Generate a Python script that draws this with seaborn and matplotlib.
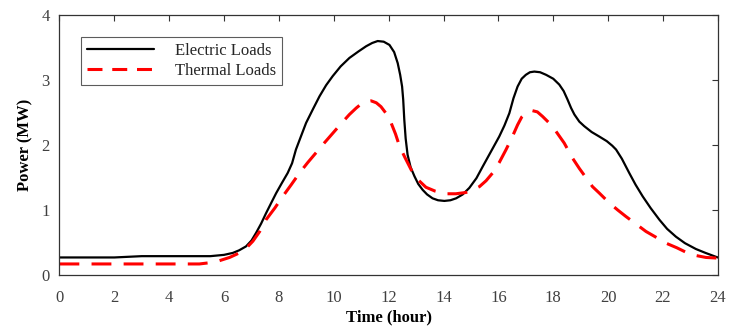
import numpy as np
import pandas as pd
import seaborn as sns
import matplotlib
matplotlib.use("Agg")
import matplotlib.pyplot as plt

elec_t = [0, 1, 2, 3, 4, 5, 5.5, 6.0, 6.32, 6.55, 6.8, 7.0, 7.17, 7.35, 7.53, 7.72, 7.9, 8.1, 8.32, 8.48, 8.62,
          8.8, 8.99, 9.25, 9.48, 9.72, 9.96, 10.25, 10.57, 10.9, 11.18, 11.4, 11.6, 11.82, 12.03, 12.2, 12.33,
          12.42, 12.49, 12.53, 12.57, 12.62, 12.69, 12.8, 12.94, 13.08, 13.24, 13.4, 13.6, 13.8, 14.03, 14.25,
          14.46, 14.7, 14.94, 15.2, 15.43, 15.73, 16.03, 16.22, 16.4, 16.55, 16.7, 16.85, 17.0, 17.15, 17.31,
          17.52, 17.74, 18.0, 18.22, 18.38, 18.52, 18.65, 18.77, 18.95, 19.13, 19.4, 19.68, 19.95, 20.15, 20.29,
          20.5, 20.77, 21.0, 21.26, 21.55, 21.87, 22.15, 22.47, 22.8, 23.2, 23.55, 23.93, 24.0]
elec_p = [0.27, 0.27, 0.27, 0.29, 0.29, 0.29, 0.29, 0.31, 0.34, 0.38, 0.44, 0.53, 0.65, 0.79, 0.95, 1.11, 1.26,
          1.41, 1.57, 1.72, 1.93, 2.13, 2.34, 2.56, 2.75, 2.92, 3.06, 3.21, 3.34, 3.44, 3.52, 3.57, 3.60, 3.59,
          3.54, 3.43, 3.26, 3.08, 2.90, 2.70, 2.39, 2.10, 1.85, 1.66, 1.52, 1.40, 1.31, 1.24, 1.18, 1.15, 1.14,
          1.15, 1.18, 1.24, 1.34, 1.49, 1.67, 1.90, 2.13, 2.30, 2.49, 2.72, 2.90, 3.02, 3.08, 3.12, 3.13, 3.12,
          3.08, 3.02, 2.93, 2.83, 2.70, 2.57, 2.47, 2.36, 2.29, 2.20, 2.13, 2.06, 1.99, 1.93, 1.79, 1.57, 1.39,
          1.21, 1.03, 0.85, 0.71, 0.59, 0.49, 0.40, 0.34, 0.28, 0.27]

therm_t = [0, 1, 2, 3, 4, 5.1, 5.5, 5.83, 6.2, 6.56, 6.8, 7.05, 7.3, 7.53, 7.85, 8.14, 8.45, 8.75, 9.05, 9.35,
           9.65, 9.96, 10.27, 10.57, 10.82, 11.05, 11.2, 11.36, 11.55, 11.72, 11.9, 12.09, 12.25, 12.39, 12.58,
           12.76, 12.88, 13.06, 13.36, 13.7, 14.09, 14.45, 14.82, 15.05, 15.31, 15.55, 15.79, 16.03, 16.28, 16.5,
           16.7, 16.85, 17.0, 17.12, 17.23, 17.42, 17.61, 17.85, 18.1, 18.4, 18.7, 18.95, 19.19, 19.43, 19.68,
           20.04, 20.35, 20.65, 21.0, 21.38, 21.75, 22.11, 22.5, 22.84, 23.2, 23.57, 24.0]
therm_p = [0.17, 0.17, 0.17, 0.17, 0.17, 0.17, 0.19, 0.22, 0.27, 0.34, 0.41, 0.52, 0.67, 0.85, 1.03, 1.21, 1.39,
           1.57, 1.73, 1.88, 2.03, 2.18, 2.33, 2.47, 2.57, 2.65, 2.67, 2.68, 2.65, 2.59, 2.49, 2.34, 2.17, 1.99,
           1.82, 1.67, 1.57, 1.47, 1.35, 1.29, 1.25, 1.25, 1.27, 1.31, 1.36, 1.45, 1.57, 1.73, 1.93, 2.12, 2.31,
           2.43, 2.49, 2.52, 2.53, 2.51, 2.44, 2.34, 2.21, 2.03, 1.80, 1.64, 1.50, 1.36, 1.26, 1.11, 1.00, 0.90,
           0.79, 0.67, 0.58, 0.49, 0.42, 0.35, 0.30, 0.27, 0.26]

x_ticks = list(range(0, 25, 2))
y_ticks = [0, 1, 2, 3, 4]

sns.set_theme(style="white")
plt.rcParams['font.family'] = ['Liberation Serif', 'DejaVu Serif']

fig, ax = plt.subplots(figsize=(7.34, 3.27), dpi=100)
fig.subplots_adjust(left=0.081, right=0.978, top=0.954, bottom=0.159)

df_e = pd.DataFrame({"t": elec_t, "p": elec_p})
df_t = pd.DataFrame({"t": therm_t, "p": therm_p})
sns.lineplot(data=df_e, x="t", y="p", ax=ax, color="black", linewidth=1.6, label="Electric Loads")
sns.lineplot(data=df_t, x="t", y="p", ax=ax, color="#ff0000", linewidth=2.2, label="Thermal Loads")
ax.lines[1].set_dashes([6.5, 4.0])
for ln in ax.lines:
    ln.set_solid_joinstyle("round")
    ln.set_dash_capstyle("butt")

ax.set_xlim(0, 24)
ax.set_ylim(0, 4)
ax.set_xticks(x_ticks)
ax.set_yticks(y_ticks)
ax.tick_params(direction="in", length=4, width=0.8, top=True, right=True, labelsize=12,
               colors="#333333", labelcolor="#404040")
ax.tick_params(axis="x", pad=11)
ax.tick_params(axis="y", pad=7)
for s in ax.spines.values():
    s.set_visible(True)
    s.set_color("#333333")
    s.set_linewidth(0.9)
ax.set_xlabel("Time (hour)", fontsize=12, fontweight="bold", labelpad=2, color="black")
ax.set_ylabel("Power (MW)", fontsize=12, fontweight="bold", labelpad=6, color="black")

leg = ax.legend(loc="upper left", bbox_to_anchor=(0.033, 0.915), fontsize=12, frameon=True, fancybox=False,
                edgecolor="#333333", handlelength=4.0, borderpad=0.35, labelspacing=0.25, handletextpad=1.3,
                borderaxespad=0)
leg.get_frame().set_linewidth(0.8)
leg.get_lines()[1].set_dashes([4.9, 3.2])

fig.savefig("out.png", dpi=100)
